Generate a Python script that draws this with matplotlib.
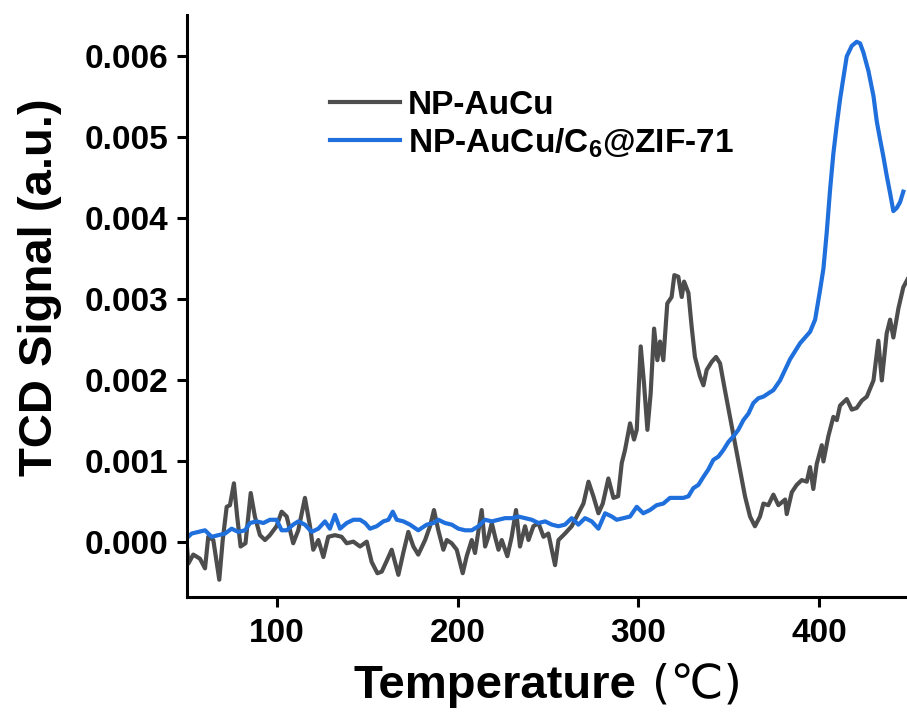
import matplotlib
matplotlib.use('Agg')
import matplotlib.pyplot as plt
import numpy as np
from matplotlib.ticker import FormatStrFormatter

plt.rcParams['font.family'] = ['Liberation Sans', 'DejaVu Sans']
plt.rcParams['font.weight'] = 'bold'
plt.rcParams['mathtext.fontset'] = 'custom'
plt.rcParams['mathtext.rm'] = 'Liberation Sans:bold'
plt.rcParams['mathtext.default'] = 'rm'

# TCD traces (signal in units of 1e-3 a.u.)
temp_aucu = [50, 51, 53.7, 57.4, 60.2, 62.0, 64.8, 68.1, 70, 72.2,
             74.0, 76.2, 78.0, 79.9, 82.6, 85.5, 87.8, 90.6, 93.4, 96.1,
             99.8, 102.6, 105.4, 109.0, 111.8, 115.5, 118.3, 120.1, 122.9, 125.7,
             128.4, 132.1, 135.8, 138.6, 142.3, 146.0, 149.7, 152.4, 155.6, 158.0,
             160.7, 163.5, 167.2, 169.9, 172.7, 175.5, 178.2,
             182, 184.7, 186.9, 189.3, 192.1, 194, 196.7, 199.5, 202.8, 205.0,
             207.8, 209.6, 213.3, 215.2, 217.0, 218.9, 220.7, 222.6, 224.4, 227.5,
             229.9, 232.3, 234.5, 237.3, 239.2, 241.9, 244.7, 247.5, 250.2, 253.9,
             255.8, 259.4, 263.1, 266.8, 269.6, 272.4, 275.1, 277.9, 280.3, 283.4,
             286.2, 288.8,
             290.8, 292.6, 295.4, 297.6, 299.1, 301.3, 303.1, 305.0, 306.8, 308.7,
             310.5, 312.0, 313.8, 316.0, 318.4, 319.9, 322.1, 324.0, 325.3, 327.7,
             329.5, 331.3, 334.1, 336.0, 337.8, 340.6, 343.0, 345.2, 347.9, 350.7,
             353.5, 356.2, 359.0, 361.8, 364.5, 367.3, 369.2, 371.9, 374.7, 377.5,
             381.2, 382.1, 384.9, 387.6, 390.4, 393.2, 395.0, 396.8, 398.7, 401.5,
             402.4, 405.1, 407.9, 409.8, 411.6, 415.3, 418.1, 420.8, 423.6, 426.4,
             430.1, 432.8, 434.7, 437.4, 439.3, 441.1, 443.9, 446.6, 449]
sig_aucu = [0.0, -0.26, -0.15, -0.20, -0.32, 0.07, 0.03, -0.46, 0.03, 0.44,
            0.46, 0.73, 0.32, -0.05, -0.01, 0.61, 0.32, 0.09, 0.03, 0.09,
            0.20, 0.38, 0.32, -0.01, 0.15, 0.55, 0.20, -0.09, 0.03, -0.18,
            0.07, 0.09, 0.07, -0.01, 0.01, -0.05, 0.01, -0.24, -0.38, -0.36,
            -0.23, -0.09, -0.40, -0.13, 0.13, -0.05, -0.15,
            0.03, 0.20, 0.40, 0.15, -0.09, 0.03, -0.01, -0.09, -0.38, -0.17,
            0.03, -0.13, 0.40, -0.05, 0.07, 0.24, 0.07, -0.09, 0.03, -0.17,
            0.07, 0.40, -0.05, 0.20, 0.03, 0.20, 0.24, 0.07, 0.11, -0.28,
            0.03, 0.11, 0.20, 0.36, 0.48, 0.75, 0.57, 0.36, 0.48, 0.79,
            0.55, 0.57,
            0.98, 1.14, 1.47, 1.27, 1.39, 2.42, 1.97, 1.39, 1.84, 2.64,
            2.25, 2.48, 2.25, 2.95, 3.03, 3.30, 3.28, 3.03, 3.22, 3.08,
            2.66, 2.29, 2.05, 1.94, 2.13, 2.23, 2.29, 2.21, 1.88, 1.55,
            1.22, 0.90, 0.57, 0.32, 0.20, 0.32, 0.48, 0.46, 0.59, 0.46,
            0.53, 0.35, 0.62, 0.71, 0.77, 0.75, 0.93, 0.66, 0.97, 1.20,
            1.00, 1.31, 1.55, 1.51, 1.69, 1.77, 1.64, 1.66, 1.75, 1.80,
            2.00, 2.49, 2.00, 2.58, 2.75, 2.53, 2.89, 3.15, 3.25]

temp_zif = [50, 52.8, 56.5, 60.2, 63.9, 67.6, 71.3, 74.9, 78.6, 82.3,
            85.1, 88.8, 92.5, 96.1, 99.8, 102.6, 105.4, 109.0, 111.8, 115.5,
            119.2, 122.9, 126.6, 129.3, 132.1, 134.9, 138.6, 142.3, 146.0, 148.8,
            151.5, 155.2, 158.9, 161.7, 164.1, 166.3, 170.0, 173.6, 178.2,
            182.9, 186.6, 189.3, 193.0, 196.7, 200.4, 204.1, 207.8, 211.5, 215.2,
            218.9, 222.6, 226.2, 229.9, 233.6, 237.3, 241.0, 244.7, 248.4, 252.1,
            255.8, 259.4, 263.1, 266.8, 270.5, 274.2, 277.9, 281.6, 285.3,
            288.0, 291.7, 295.4, 299.1, 302.7, 306.4, 310.1, 313.8, 317.5, 321.2,
            324.9, 327.7, 330.4, 333.2, 336.0, 338.7, 341.5, 344.3, 347.0, 349.8,
            352.6, 355.3, 358.1, 360.9, 363.6, 366.4, 369.2, 371.9, 374.7,
            378.4, 383.9, 389.5, 395.0, 397.8, 400.5, 402.4, 404.2, 406.1, 407.9,
            409.8, 411.6, 413.4, 415.3, 418.1, 420.8, 422.7, 424.5, 427.3, 430.1,
            431.9, 433.7, 435.6, 437.4, 439.3, 441.1, 443.0, 444.8, 446.6]
sig_zif = [0.05, 0.11, 0.13, 0.15, 0.07, 0.09, 0.11, 0.17, 0.13, 0.15,
           0.24, 0.26, 0.24, 0.28, 0.28, 0.15, 0.15, 0.22, 0.26, 0.22,
           0.13, 0.17, 0.26, 0.17, 0.34, 0.17, 0.24, 0.28, 0.28, 0.24,
           0.17, 0.20, 0.26, 0.28, 0.38, 0.28, 0.26, 0.22, 0.15,
           0.22, 0.24, 0.28, 0.24, 0.22, 0.17, 0.15, 0.15, 0.20, 0.28,
           0.26, 0.28, 0.30, 0.30, 0.32, 0.30, 0.28, 0.24, 0.26, 0.22,
           0.20, 0.22, 0.30, 0.22, 0.30, 0.26, 0.17, 0.36, 0.32,
           0.28, 0.30, 0.32, 0.44, 0.36, 0.40, 0.46, 0.48, 0.55, 0.55,
           0.55, 0.57, 0.67, 0.71, 0.81, 0.90, 1.02, 1.06, 1.14, 1.24,
           1.31, 1.39, 1.51, 1.59, 1.72, 1.78, 1.80, 1.84, 1.88,
           2.00, 2.26, 2.46, 2.60, 2.75, 3.11, 3.38, 3.82, 4.36, 4.80,
           5.16, 5.47, 5.73, 6.00, 6.13, 6.18, 6.16, 6.05, 5.82, 5.51,
           5.20, 4.98, 4.76, 4.53, 4.31, 4.09, 4.13, 4.20, 4.33]

labels = ['NP-AuCu', 'NP-AuCu/C$_{6}$@ZIF-71']
colors = ['#4d4d4d', '#1f6fdc']

fig = plt.figure(figsize=(9.07, 7.17), dpi=100)
ax = fig.add_axes([0.2057, 0.1674, 0.797, 0.8116])

ax.plot(temp_aucu, np.array(sig_aucu) * 1e-3, color=colors[0], lw=3, label=labels[0])
ax.plot(temp_zif, np.array(sig_zif) * 1e-3, color=colors[1], lw=3, label=labels[1])

ax.set_xlim(50, 450)
ax.set_ylim(-0.000673, 0.00651)
ax.set_xticks([100, 200, 300, 400])
ax.set_yticks(np.arange(0, 0.0061, 0.001))
ax.yaxis.set_major_formatter(FormatStrFormatter('%.3f'))

for side in ['top', 'right']:
    ax.spines[side].set_visible(False)
for side in ['left', 'bottom']:
    ax.spines[side].set_linewidth(2.2)
ax.tick_params(direction='out', length=7, width=2.2, labelsize=24)
ax.tick_params(axis='x', pad=8)
ax.tick_params(axis='y', pad=6)

ax.set_ylabel('TCD Signal (a.u.)', fontsize=34, fontweight='bold')
ax.yaxis.set_label_coords(-0.172, 0.533)

# bold word plus a thin unit in parentheses
ax.set_xlabel('Temperature', fontsize=34, fontweight='bold')
ax.xaxis.set_label_coords(0.427, -0.115)
ax.annotate(' (℃)', xy=(1, 0), xycoords=ax.xaxis.label, ha='left', va='bottom',
            fontsize=34, fontweight='normal', family=['DejaVu Sans'])

ax.legend(loc='upper left', bbox_to_anchor=(0.198, 0.871), frameon=False,
          fontsize=24, handlelength=2.1, handletextpad=0.25, labelspacing=0.15,
          borderpad=0, borderaxespad=0)

fig.savefig('out.png', dpi=100)
